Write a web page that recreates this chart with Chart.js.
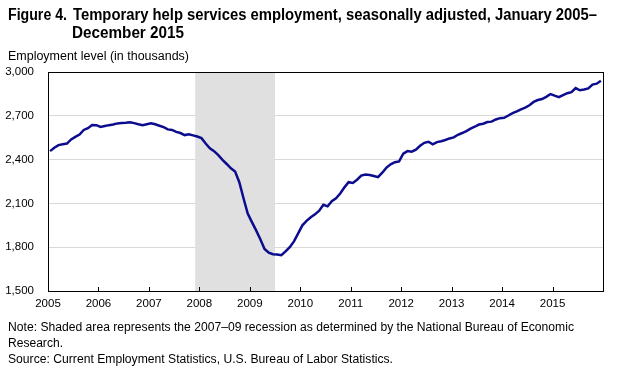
<!DOCTYPE html>
<html><head><meta charset="utf-8">
<script src="https://cdn.jsdelivr.net/npm/chart.js@4"></script>
<style>
body{margin:0;width:623px;height:373px;background:#fff;position:relative;overflow:hidden;font-family:"Liberation Sans",Arial,sans-serif;color:#000}
.t{position:absolute;white-space:nowrap;transform-origin:0 0;line-height:1}
#c{position:absolute;left:0;top:0}
</style></head><body>
<canvas id="c" width="623" height="373"></canvas>
<div class="t fit" data-w="59" style="left:8px;top:7px;font-weight:bold;font-size:16px">Figure 4.</div>
<div class="t fit" data-w="524" style="left:73px;top:7px;font-weight:bold;font-size:16px">Temporary help services employment, seasonally adjusted, January 2005–</div>
<div class="t fit" data-w="112" style="left:72px;top:25px;font-weight:bold;font-size:16px">December 2015</div>
<div class="t fit" data-w="181" style="left:8px;top:50px;font-size:12.5px">Employment level (in thousands)</div>
<div class="t fit" data-w="566" style="left:8px;top:321px;font-size:12.5px">Note: Shaded area represents the 2007–09 recession as determined by the National Bureau of Economic</div>
<div class="t fit" data-w="55" style="left:8px;top:337px;font-size:12.5px">Research.</div>
<div class="t fit" data-w="385" style="left:8px;top:353px;font-size:12.5px">Source: Current Employment Statistics, U.S. Bureau of Labor Statistics.</div>
<script>
// Year labels (x-axis ticks)
const years = ['2005','2006','2007','2008','2009','2010','2011','2012','2013','2014','2015'];
// Monthly employment levels (thousands), Jan..Dec of each year
const v2005 = [2458, 2481, 2499, 2505, 2510, 2538, 2556, 2572, 2603, 2615, 2637, 2636];
const v2006 = [2624, 2630, 2636, 2640, 2648, 2650, 2652, 2656, 2650, 2642, 2636, 2642];
const v2007 = [2648, 2642, 2632, 2622, 2607, 2603, 2590, 2582, 2568, 2574, 2566, 2558];
const v2008 = [2547, 2510, 2478, 2458, 2430, 2398, 2370, 2340, 2318, 2245, 2135, 2030];
const v2009 = [1972, 1915, 1855, 1788, 1762, 1752, 1750, 1745, 1772, 1800, 1840, 1895];
const v2010 = [1950, 1980, 2005, 2025, 2050, 2090, 2080, 2115, 2135, 2168, 2210, 2245];
const v2011 = [2240, 2262, 2290, 2298, 2295, 2288, 2280, 2310, 2345, 2368, 2382, 2388];
const v2012 = [2440, 2458, 2454, 2468, 2495, 2515, 2522, 2505, 2520, 2526, 2534, 2545];
const v2013 = [2552, 2570, 2582, 2595, 2612, 2625, 2640, 2646, 2657, 2660, 2675, 2684];
const v2014 = [2686, 2702, 2718, 2730, 2744, 2756, 2772, 2795, 2808, 2815, 2830, 2849];
const v2015 = [2838, 2828, 2842, 2855, 2862, 2890, 2875, 2880, 2888, 2914, 2920, 2940];
// Y-axis tick values
const yTicks = [1500, 1800, 2100, 2400, 2700, 3000];
// Recession: December 2007 through June 2009 (month indexes from Jan 2005)
const recessionStartMonth = 35;
const recessionEndMonth = 54;

const monthly = [].concat(v2005, v2006, v2007, v2008, v2009, v2010, v2011, v2012, v2013, v2014, v2015);
const points = monthly.map((v, i) => ({x: i + 0.5, y: v}));

document.querySelectorAll('.fit').forEach(el => {
  const w = el.getBoundingClientRect().width;
  const target = +el.dataset.w;
  el.style.transform = 'scaleX(' + (target / w) + ')';
});

const shade = {
  id: 'shade',
  beforeDatasetsDraw(chart) {
    const {ctx, chartArea: a, scales: {x}} = chart;
    const x0 = x.getPixelForValue(recessionStartMonth), x1 = x.getPixelForValue(recessionEndMonth);
    ctx.save();
    ctx.fillStyle = '#e0e0e0';
    ctx.fillRect(x0, a.top, x1 - x0, a.bottom - a.top);
    ctx.restore();
  },
  afterDraw(chart) {
    const {ctx, chartArea: a, scales: {x}} = chart;
    ctx.save();
    ctx.strokeStyle = '#000';
    ctx.lineWidth = 1;
    ctx.strokeRect(Math.round(a.left) + 0.5, Math.round(a.top) + 0.5, Math.round(a.right - a.left), Math.round(a.bottom - a.top));
    ctx.beginPath();
    years.forEach((y, k) => {
      const px = Math.round(x.getPixelForValue(k * 12)) + 0.5;
      ctx.moveTo(px, Math.round(a.bottom));
      ctx.lineTo(px, Math.round(a.bottom) - 4);
    });
    ctx.stroke();
    ctx.restore();
  }
};

Chart.defaults.font.family = '"Liberation Sans",Arial,sans-serif';
Chart.defaults.font.size = 11.5;
Chart.defaults.color = '#000';

new Chart(document.getElementById('c'), {
  type: 'line',
  data: {datasets: [{data: points, borderColor: '#0c0c8e', borderWidth: 2.5, pointRadius: 0, tension: 0, fill: false}]},
  options: {
    responsive: false, animation: false, devicePixelRatio: 1,
    layout: {padding: {left: 0, top: 72, right: 20, bottom: 0}},
    plugins: {legend: {display: false}, tooltip: {enabled: false}},
    scales: {
      x: {
        type: 'linear', min: 0, max: 132,
        afterFit: s => { s.height = 82; },
        afterBuildTicks: s => { s.ticks = years.map((y, k) => ({value: k * 12})); },
        ticks: {autoSkip: false, maxRotation: 0, padding: 6, callback: v => years[v / 12]},
        grid: {display: false, drawTicks: false},
        border: {display: true, color: '#000', width: 1}
      },
      y: {
        min: 1500, max: 3000,
        afterFit: s => { s.width = 48; },
        afterBuildTicks: s => { s.ticks = yTicks.map(v => ({value: v})); },
        ticks: {padding: 14, callback: v => v.toLocaleString('en-US')},
        grid: {color: '#d9d9d9', lineWidth: 1, drawTicks: false},
        border: {display: true, color: '#000', width: 1}
      }
    }
  },
  plugins: [shade]
});
</script>
</body></html>
